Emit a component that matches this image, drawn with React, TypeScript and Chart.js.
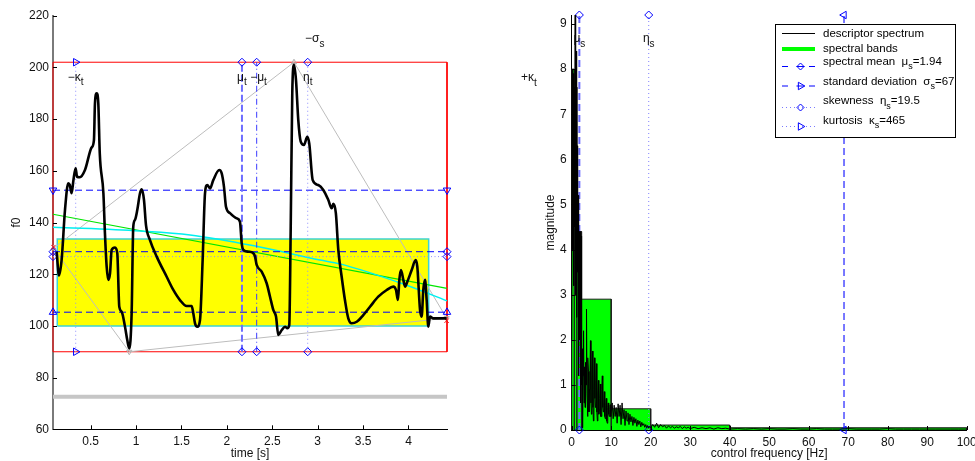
import React, { useEffect, useRef } from 'react';
import { Chart, registerables } from 'chart.js';

Chart.register(...registerables);

const FONT = '"Liberation Sans", Arial, Helvetica, sans-serif';
Chart.defaults.font.family = FONT;
Chart.defaults.color = '#000';

// ================= Left panel: f0 trajectory =================
const f0Time = [
  0.125, 0.151, 0.18, 0.217, 0.253, 0.27, 0.29, 0.31, 0.334, 0.35, 0.38, 0.437, 0.51, 0.536,
  0.547, 0.566, 0.584, 0.6, 0.64, 0.657, 0.676, 0.694, 0.713, 0.731, 0.768, 0.793, 0.815,
  0.841, 0.878, 0.903, 0.925, 0.951, 0.969, 0.988, 1.013, 1.043, 1.062, 1.087, 1.109, 1.153,
  1.227, 1.337, 1.41, 1.483, 1.557, 1.612, 1.63, 1.649, 1.674, 1.704, 1.733, 1.759, 1.784,
  1.814, 1.85, 1.916, 1.943, 1.968, 1.99, 2.034, 2.108, 2.144, 2.163, 2.181, 2.236, 2.291,
  2.31, 2.328, 2.383, 2.438, 2.475, 2.511, 2.541, 2.566, 2.604, 2.64, 2.665, 2.687, 2.703,
  2.72, 2.739, 2.761, 2.786, 2.813, 2.849, 2.885, 2.907, 2.945, 3.007, 3.062, 3.117, 3.154,
  3.172, 3.2, 3.227, 3.264, 3.3, 3.337, 3.374, 3.43, 3.502, 3.576, 3.667, 3.76, 3.833, 3.862,
  3.884, 3.899, 3.917, 3.943, 3.962, 3.987, 4.035, 4.079, 4.097, 4.127, 4.145, 4.163, 4.182,
  4.2, 4.218, 4.237, 4.273, 4.383, 4.42,
];
const f0Value = [
  128.7, 119.5, 125.5, 144.8, 155.2, 154.5, 151.3, 156.4, 161, 157.7, 157.5, 160.3, 169, 171.9,
  186, 190, 186, 166.8, 151.3, 135.8, 122.9, 117.8, 120.3, 129.4, 130.3, 128.1, 107.4,
  105.5, 99.7, 94.5, 91.3, 104.9, 138.4, 141, 144.8, 151.3, 152.8, 148.7, 139, 133.2,
  126.8, 119, 113.9, 110, 107.7, 107.7, 104.9, 101, 99.7, 102.3, 125.5, 151.3, 154.5,
  153.2, 156.4, 160.3, 159, 153.8, 146.1, 143.6, 141.6, 140.3, 132, 129.4, 128.7, 128.1,
  126.8, 123.6, 121, 116.5, 111.3, 106.2, 103.6, 96.5, 98.4, 99.7, 99.1, 100.3, 138.4,
  190, 201, 195.1, 179.7, 171.3, 170, 173.2, 170.6, 156.4, 154.5, 152.6, 148.7, 145.5,
  147.2, 143.6, 129.4, 119, 110, 102.9, 101, 101.6, 104.2, 107.4, 111.3, 113.9, 115.2, 113.9,
  110, 117.8, 121.6, 117.8, 115.2, 117.1, 121.6, 125.5, 122.9, 106.2, 103.6, 113.9, 117.8,
  110, 99.7, 103.6, 102.9, 102.9, 102.9,
];

const timeRange = [0.085, 4.424];
const f0Range = [60, 220];
const f0MinMax = [90, 202];
const yellowBoxTime = [0.132, 4.222];
const yellowBoxF0 = [100, 133.6];
const grayBarLevel = 72.6;
const stdHigh = 152.5;
const meanLevel = 128.7;
const medianLevel = 126.8;
const stdLow = 105.3;
const kurtTime = 0.335;
const meanTime = 2.166;
const meanTime2 = 2.328;
const skewTime = 2.89;
const envTime = [0.09, 2.739, 4.42, 0.925, 0.09];
const envValue = [130, 202, 103, 90, 130];
const linTime = [0.085, 4.424];
const linValue = [143.2, 114.5];
const polyTime = [0.085, 1.04, 1.594, 2.3, 3.025, 3.245, 3.943, 4.424];
const polyValue = [138.2, 136.7, 135.2, 131.0, 125.5, 124, 116.2, 109.7];
const endTime = [0.09, 4.42];
const endValue = [130.5, 102];

// ================= Right panel: descriptor spectrum =================
const specFreq = [
  0, 0.125, 0.25, 0.375, 0.5, 0.625, 0.75, 0.875, 1, 1.125,
  1.25, 1.375, 1.5, 1.625, 1.75, 1.875, 2, 2.125, 2.25, 2.375,
  2.5, 2.625, 2.75, 2.875, 3, 3.125, 3.25, 3.375, 3.5, 3.625,
  3.75, 3.875, 4, 4.125, 4.25, 4.375, 4.5, 4.625, 4.75, 4.875,
  5, 5.125, 5.25, 5.375, 5.5, 5.625, 5.75, 5.875, 6, 6.125,
  6.25, 6.375, 6.5, 6.625, 6.75, 6.875, 7, 7.125, 7.25, 7.375,
  7.5, 7.625, 7.75, 7.875, 8, 8.125, 8.25, 8.375, 8.5, 8.625,
  8.75, 8.875, 9, 9.125, 9.25, 9.375, 9.5, 9.625, 9.75, 9.875,
  10, 10.25, 10.5, 10.75, 11, 11.25, 11.5, 11.75, 12, 12.25,
  12.5, 12.75, 13, 13.25, 13.5, 13.75, 14, 14.25, 14.5, 14.75,
  15, 15.25, 15.5, 15.75, 16, 16.25, 16.5, 16.75, 17, 17.25,
  17.5, 17.75, 18, 18.25, 18.5, 18.75, 19, 19.25, 19.5, 19.75,
  20,
  20.5, 21, 21.5, 22, 22.5, 23, 23.5, 24, 24.5, 25,
  25.5, 26, 26.5, 27, 27.5, 28, 28.5, 29, 29.5, 30,
  31, 32, 33, 34, 35, 36, 37, 38, 39, 40,
  42, 44, 46, 48, 50, 52, 54, 56, 58, 60,
  62, 64, 66, 68, 70, 72, 74, 76, 78, 80,
  82, 84, 86, 88, 90, 92, 94, 96, 98, 100,
];
const specMag = [
  2.0, 8.0, 4.0, 7.9, 3.2, 7.6, 4.5, 9.2, 3.0, 8.4,
  2.5, 6.3, 3.5, 5.2, 1.2, 4.4, 2.0, 4.4, 0.6, 4.3,
  1.0, 1.8, 0.05, 1.2, 2.2, 0.6, 1.4, 0.5, 1.5, 1.0,
  2.68, 0.8, 0.3, 1.6, 1.3, 0.4, 0.9, 1.2, 1.98, 0.6,
  0.35, 1.2, 1.75, 0.5, 0.2, 0.9, 1.6, 0.7, 0.5, 1.1,
  1.47, 0.4, 0.2, 0.8, 1.1, 0.35, 0.45, 0.7, 1.02, 0.3,
  0.3, 0.9, 1.2, 0.5, 0.4, 0.6, 0.85, 0.3, 0.25, 0.55,
  0.7, 0.2, 0.15, 0.5, 0.6, 0.35, 0.3, 0.45, 0.56, 0.3,
  0.4, 0.6, 0.25, 0.55, 0.3, 0.5, 0.15, 0.58, 0.3, 0.55,
  0.12, 0.6, 0.25, 0.45, 0.1, 0.42, 0.2, 0.38, 0.12, 0.35,
  0.18, 0.3, 0.1, 0.28, 0.15, 0.25, 0.08, 0.22, 0.12, 0.2,
  0.07, 0.17, 0.1, 0.14, 0.06, 0.12, 0.05, 0.1, 0.04, 0.08,
  0.05,
  0.12, 0.06, 0.15, 0.05, 0.12, 0.07, 0.1, 0.04, 0.09, 0.05,
  0.08, 0.04, 0.07, 0.05, 0.08, 0.03, 0.07, 0.04, 0.06, 0.03,
  0.06, 0.03, 0.05, 0.03, 0.05, 0.02, 0.05, 0.03, 0.04, 0.02,
  0.03, 0.02, 0.03, 0.02, 0.03, 0.02, 0.02, 0.03, 0.02, 0.02,
  0.03, 0.02, 0.02, 0.02, 0.03, 0.02, 0.02, 0.02, 0.02, 0.03,
  0.02, 0.02, 0.02, 0.02, 0.02, 0.02, 0.02, 0.02, 0.02, 0.02,
];
const bandEdges = [0, 0.66, 1.3, 2.5, 10, 20, 40, 100];
const bandHeights = [8.0, 7.6, 4.4, 2.9, 0.47, 0.11, 0.05];
const freqRange = [0, 100];
const magRange = [0, 9.2];
const specMean = 1.94;
const specStd = 67;
const specSkew = 19.5;
const specKurt = 465;

// ================= helpers =================
const BLUE = '#0000ff';
const pts = (xs: number[], ys: number[]) => xs.map((x, i) => ({ x, y: ys[i] }));

function refLine(data: any[], color: string, width: number, dash: number[], style: string, rot: number, radius = 4) {
  return {
    data, borderColor: color, borderWidth: width, borderDash: dash,
    pointStyle: style, pointRotation: rot, pointRadius: radius,
    pointBorderColor: BLUE, pointBackgroundColor: 'rgba(0,0,0,0)', pointBorderWidth: 1,
    fill: false, clip: false, tension: 0,
  };
}
function plain(data: any[], color: string, width: number, extra: any = {}) {
  return { data, borderColor: color, borderWidth: width, pointRadius: 0, fill: false, clip: false, tension: 0, ...extra };
}

function richText(ctx: CanvasRenderingContext2D, x: number, y: number, parts: Array<[string, boolean]>, size: number, align: 'center' | 'left') {
  const subSize = Math.round(size * 0.8);
  let total = 0;
  const widths: number[] = [];
  for (const [t, sub] of parts) {
    ctx.font = `${sub ? subSize : size}px ${FONT}`;
    const w = ctx.measureText(t).width;
    widths.push(w);
    total += w;
  }
  let cx = align === 'center' ? x - total / 2 : x;
  ctx.textAlign = 'left';
  ctx.textBaseline = 'middle';
  parts.forEach(([t, sub], i) => {
    ctx.font = `${sub ? subSize : size}px ${FONT}`;
    ctx.fillText(t, cx, sub ? y + size * 0.45 : y);
    cx += widths[i];
  });
}

const innerTicks = {
  id: 'innerTicks',
  afterDraw(chart: any) {
    const { ctx, chartArea: a, scales } = chart;
    ctx.save();
    ctx.strokeStyle = '#000';
    ctx.lineWidth = 1;
    ctx.beginPath();
    scales.x.ticks.forEach((t: any) => {
      const px = Math.round(scales.x.getPixelForValue(t.value)) + 0.5;
      ctx.moveTo(px, a.bottom);
      ctx.lineTo(px, a.bottom - 4);
    });
    scales.y.ticks.forEach((t: any) => {
      const py = Math.round(scales.y.getPixelForValue(t.value)) + 0.5;
      ctx.moveTo(a.left, py);
      ctx.lineTo(a.left + 4, py);
    });
    ctx.stroke();
    ctx.restore();
  },
};

const leftLabelsData: Array<{ t: number; v: number; parts: Array<[string, boolean]> }> = [
  { t: kurtTime, v: 196.2, parts: [['−κ', false], ['t', true]] },
  { t: meanTime, v: 196.2, parts: [['μ', false], ['t', true]] },
  { t: meanTime2 + 0.02, v: 196.2, parts: [['−μ', false], ['t', true]] },
  { t: skewTime, v: 196.2, parts: [['η', false], ['t', true]] },
  { t: 5.327, v: 196, parts: [['+κ', false], ['t', true]] },
];
const leftLabels = {
  id: 'leftLabels',
  afterDraw(chart: any) {
    const { ctx, scales } = chart;
    ctx.save();
    ctx.fillStyle = '#111';
    leftLabelsData.forEach((l) => richText(ctx, scales.x.getPixelForValue(l.t), scales.y.getPixelForValue(l.v), l.parts, 12, 'center'));
    ctx.restore();
  },
};

const rightLabelsData: Array<{ f: number; m: number; parts: Array<[string, boolean]> }> = [
  { f: specMean, m: 8.67, parts: [['μ', false], ['s', true]] },
  { f: specSkew, m: 8.67, parts: [['η', false], ['s', true]] },
  { f: specMean - specStd, m: 8.67, parts: [['−σ', false], ['s', true]] },
];

function diamond(ctx: CanvasRenderingContext2D, x: number, y: number, r: number) {
  ctx.beginPath();
  ctx.moveTo(x, y - r); ctx.lineTo(x + r, y); ctx.lineTo(x, y + r); ctx.lineTo(x - r, y); ctx.closePath();
  ctx.stroke();
}
function triRight(ctx: CanvasRenderingContext2D, x: number, y: number, r: number) {
  ctx.beginPath();
  ctx.moveTo(x + r, y); ctx.lineTo(x - r * 0.5, y - r * 0.87); ctx.lineTo(x - r * 0.5, y + r * 0.87); ctx.closePath();
  ctx.stroke();
}

const rightLabels = {
  id: 'rightLabels',
  afterDraw(chart: any) {
    const { ctx, scales } = chart;
    ctx.save();
    ctx.fillStyle = '#111';
    rightLabelsData.forEach((l) => richText(ctx, scales.x.getPixelForValue(l.f), scales.y.getPixelForValue(l.m), l.parts, 12, 'center'));

    // legend
    const L = 775.5, T = 24.5, W = 180, H = 113;
    ctx.fillStyle = '#fff';
    ctx.fillRect(L, T, W, H);
    ctx.strokeStyle = '#000';
    ctx.lineWidth = 1;
    ctx.strokeRect(L, T, W, H);
    const x0 = 782, x1 = 815, xm = 800.5, tx = 823;
    const fs = 11.5;
    ctx.fillStyle = '#000';
    ctx.strokeStyle = '#000'; ctx.lineWidth = 1; ctx.setLineDash([]);
    ctx.beginPath(); ctx.moveTo(x0, 33.5); ctx.lineTo(x1, 33.5); ctx.stroke();
    richText(ctx, tx, 33.5, [['descriptor spectrum', false]], fs, 'left');
    ctx.strokeStyle = '#00ff00'; ctx.lineWidth = 4;
    ctx.beginPath(); ctx.moveTo(x0, 49); ctx.lineTo(x1, 49); ctx.stroke();
    richText(ctx, tx, 49, [['spectral bands', false]], fs, 'left');
    ctx.strokeStyle = BLUE; ctx.lineWidth = 1;
    ctx.beginPath(); ctx.moveTo(x0, 66.5); ctx.lineTo(x0 + 6, 66.5); ctx.moveTo(x1 - 6, 66.5); ctx.lineTo(x1, 66.5);
    ctx.moveTo(xm - 4, 66.5); ctx.lineTo(xm + 4, 66.5); ctx.stroke();
    diamond(ctx, xm, 66.5, 3.5);
    richText(ctx, tx, 61.5, [['spectral mean  μ', false], ['s', true], ['=' + specMean, false]], fs, 'left');
    ctx.beginPath(); ctx.moveTo(x0, 86); ctx.lineTo(x0 + 6, 86); ctx.moveTo(x1 - 6, 86); ctx.lineTo(x1, 86);
    ctx.moveTo(xm - 4, 86); ctx.lineTo(xm + 4, 86); ctx.stroke();
    triRight(ctx, xm, 86, 4.3);
    richText(ctx, tx, 81.5, [['standard deviation  σ', false], ['s', true], ['=' + specStd, false]], fs, 'left');
    ctx.strokeStyle = '#7a7aff'; ctx.setLineDash([1, 3]);
    ctx.beginPath(); ctx.moveTo(x0, 107.5); ctx.lineTo(x1, 107.5); ctx.stroke();
    ctx.setLineDash([]); ctx.strokeStyle = BLUE;
    diamond(ctx, xm, 107.5, 3.5);
    richText(ctx, tx, 101, [['skewness  η', false], ['s', true], ['=' + specSkew, false]], fs, 'left');
    ctx.strokeStyle = '#7a7aff'; ctx.setLineDash([1, 3]);
    ctx.beginPath(); ctx.moveTo(x0, 126.5); ctx.lineTo(x1, 126.5); ctx.stroke();
    ctx.setLineDash([]); ctx.strokeStyle = BLUE;
    triRight(ctx, xm, 126.5, 4.3);
    richText(ctx, tx, 120.5, [['kurtosis  κ', false], ['s', true], ['=' + specKurt, false]], fs, 'left');
    ctx.restore();
  },
};

const numLabel = (v: any) => String(Math.round(Number(v) * 100) / 100);

function buildLeft(): any {
  const [tLo, tHi] = timeRange;
  const [fMin, fMax] = f0MinMax;
  const hline = (v: number) => [{ x: tLo, y: v }, { x: tHi, y: v }];
  const vline = (t: number) => [{ x: t, y: fMin }, { x: t, y: fMax }];
  const datasets: any[] = [
    plain(pts(f0Time, f0Value), '#000', 2.6, { cubicInterpolationMode: 'monotone' }),
    {
      data: pts(endTime, endValue), showLine: false, pointStyle: 'crossRot', pointRadius: 3,
      pointBorderColor: '#ff0000', pointBorderWidth: 1, clip: false,
    },
    refLine(vline(kurtTime), '#8f8fff', 1, [1, 3], 'triangle', 90, 4.3),
    refLine(vline(meanTime), '#6d6dff', 2, [7, 3], 'rectRot', 0, 4),
    refLine(vline(meanTime2), '#3a3aff', 1, [6, 3, 1, 3], 'rectRot', 0, 4),
    refLine(vline(skewTime), '#8f8fff', 1, [1, 3], 'rectRot', 0, 4),
    refLine(hline(stdHigh), BLUE, 1, [7, 4], 'triangle', 180, 4.3),
    refLine(hline(meanLevel), BLUE, 1, [7, 4], 'rectRot', 0, 4),
    refLine(hline(medianLevel), '#8f8fff', 1, [1, 2.5], 'rectRot', 0, 4),
    refLine(hline(stdLow), BLUE, 1, [7, 4], 'triangle', 0, 4.3),
    plain(pts(polyTime, polyValue), '#00f0f0', 1.5, { cubicInterpolationMode: 'monotone' }),
    plain(pts(linTime, linValue), '#00e600', 1.2),
    {
      ...plain(pts(envTime, envValue), '#bdbdbd', 1),
      pointStyle: 'triangle', pointRadius: [3, 3, 3, 3, 0], pointRotation: [0, 0, 180, 180, 0],
      pointBorderColor: '#b0b0b0', pointBackgroundColor: 'rgba(0,0,0,0)', pointBorderWidth: 1,
    },
    plain([{ x: tLo, y: fMin }, { x: tLo, y: fMax }, { x: tHi, y: fMax }, { x: tHi, y: fMin }, { x: tLo, y: fMin }], '#ff0000', 1),
    plain([
      { x: yellowBoxTime[0], y: yellowBoxF0[0] }, { x: yellowBoxTime[0], y: yellowBoxF0[1] },
      { x: yellowBoxTime[1], y: yellowBoxF0[1] }, { x: yellowBoxTime[1], y: yellowBoxF0[0] },
      { x: yellowBoxTime[0], y: yellowBoxF0[0] },
    ], '#3cd4d4', 1.5),
    {
      data: [{ x: yellowBoxTime[0], y: yellowBoxF0[1] }, { x: yellowBoxTime[1], y: yellowBoxF0[1] }],
      borderWidth: 0, borderColor: 'rgba(0,0,0,0)', pointRadius: 0, tension: 0,
      fill: { value: yellowBoxF0[0] }, backgroundColor: '#ffff00', clip: false,
    },
    plain(hline(grayBarLevel), '#c6c6c6', 4),
  ];
  return {
    type: 'line',
    data: { datasets },
    options: {
      responsive: false, animation: false, devicePixelRatio: 1, events: [],
      layout: { padding: { left: 0, right: 975 - 447, top: 15.7, bottom: 0 } },
      plugins: { legend: { display: false }, tooltip: { enabled: false } },
      elements: { point: { radius: 0 } },
      scales: {
        x: {
          type: 'linear', min: timeRange[0], max: timeRange[1],
          ticks: { stepSize: 0.5, includeBounds: false, padding: 5, autoSkip: false, maxRotation: 0, font: { size: 12 }, color: '#111', callback: numLabel },
          grid: { display: false, drawTicks: false },
          border: { display: true, color: '#000', width: 1 },
          title: { display: true, text: 'time [s]', font: { size: 12 }, color: '#111', padding: { top: 0, bottom: 0 } },
          afterFit: (s: any) => { s.height = 461 - 429.3; s.paddingLeft = 0; s.paddingRight = 0; },
        },
        y: {
          type: 'linear', min: f0Range[0], max: f0Range[1],
          ticks: { stepSize: 20, includeBounds: false, padding: 4, font: { size: 12 }, color: '#111', callback: numLabel },
          grid: { display: false, drawTicks: false },
          border: { display: true, color: '#7a7a7a', width: 2 },
          title: { display: true, text: 'f0', font: { size: 12 }, color: '#111', padding: { top: 9.8, bottom: 0 } },
          afterFit: (s: any) => { s.width = 53; s.paddingTop = 0; s.paddingBottom = 0; },
        },
      },
    },
    plugins: [innerTicks, leftLabels],
  };
}

function buildRight(): any {
  const [mLo, mHi] = magRange;
  const vline = (f: number) => [{ x: f, y: mLo }, { x: f, y: mHi }];
  const bandPoly: any[] = [{ x: bandEdges[0], y: 0 }];
  bandHeights.forEach((h, i) => {
    bandPoly.push({ x: bandEdges[i], y: h });
    bandPoly.push({ x: bandEdges[i + 1], y: h });
    bandPoly.push({ x: bandEdges[i + 1], y: 0 });
  });
  const datasets: any[] = [
    plain(pts(specFreq, specMag), '#000', 1),
    refLine(vline(specMean + specStd), '#2020ff', 1.2, [7, 4], 'triangle', 270, 4.3),
    refLine(vline(specSkew), '#8080ff', 1, [1, 3], 'rectRot', 0, 4),
    refLine(vline(specMean), '#6d6dff', 2, [7, 4], 'rectRot', 0, 4),
    {
      data: bandPoly, borderColor: '#1e1e1e', borderWidth: 1, pointRadius: 0, tension: 0,
      fill: 'origin', backgroundColor: '#00ff00', clip: false,
    },
  ];
  return {
    type: 'line',
    data: { datasets },
    options: {
      responsive: false, animation: false, devicePixelRatio: 1, events: [],
      layout: { padding: { left: 536, right: 975 - 966.7, top: 15, bottom: 0 } },
      plugins: { legend: { display: false }, tooltip: { enabled: false } },
      elements: { point: { radius: 0 } },
      scales: {
        x: {
          type: 'linear', min: freqRange[0], max: freqRange[1],
          ticks: { stepSize: 10, includeBounds: false, padding: 5, autoSkip: false, maxRotation: 0, font: { size: 12 }, color: '#111', callback: numLabel },
          grid: { display: false, drawTicks: false },
          border: { display: true, color: '#000', width: 1 },
          title: { display: true, text: 'control frequency [Hz]', font: { size: 12 }, color: '#111', padding: { top: 0, bottom: 0 } },
          afterFit: (s: any) => { s.height = 461 - 430; s.paddingLeft = 0; s.paddingRight = 0; },
        },
        y: {
          type: 'linear', min: magRange[0], max: magRange[1],
          ticks: { stepSize: 1, includeBounds: false, padding: 5, font: { size: 12 }, color: '#111', callback: numLabel },
          grid: { display: false, drawTicks: false },
          border: { display: true, color: '#000', width: 1 },
          title: { display: true, text: 'magnitude', font: { size: 12 }, color: '#111', padding: { top: 7.8, bottom: 0 } },
          afterFit: (s: any) => { s.width = 571.7 - 536; s.paddingTop = 0; s.paddingBottom = 0; },
        },
      },
    },
    plugins: [innerTicks, rightLabels],
  };
}

export default function App() {
  const leftRef = useRef<HTMLCanvasElement>(null);
  const rightRef = useRef<HTMLCanvasElement>(null);
  useEffect(() => {
    const c1 = new Chart(leftRef.current as HTMLCanvasElement, buildLeft());
    const c2 = new Chart(rightRef.current as HTMLCanvasElement, buildRight());
    return () => { c1.destroy(); c2.destroy(); };
  }, []);
  return (
    <div style={{ position: 'absolute', left: 0, top: 0, width: 975, height: 461, background: '#fff' }}>
      <canvas ref={leftRef} width={975} height={461} style={{ position: 'absolute', left: 0, top: 0 }} />
      <canvas ref={rightRef} width={975} height={461} style={{ position: 'absolute', left: 0, top: 0 }} />
    </div>
  );
}
